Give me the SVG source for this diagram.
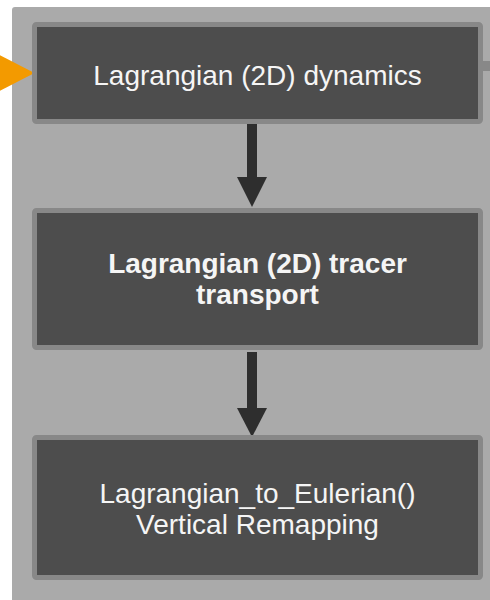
<svg xmlns="http://www.w3.org/2000/svg" width="490" height="600" viewBox="0 0 490 600">
  <style>
    .box { fill: #4d4d4d; stroke: #888888; stroke-width: 5; }
    .lbl { font-family: "Liberation Sans", Arial, sans-serif; font-size: 28px; fill: #f5f5f5; text-anchor: middle; }
    .bold { font-weight: bold; }
    .arrow { fill: #2e2e2e; }
  </style>
  <rect x="0" y="0" width="490" height="600" fill="#ffffff"/>
  <rect id="container" x="12" y="7" width="490" height="610" rx="3" fill="#aaaaaa"/>
  <rect x="483" y="61" width="10" height="10" fill="#888888"/>
  <g id="connectors">
    <polygon points="-12,49 34.5,73 -12,97" fill="#f39a00"/>
    <rect class="arrow" x="247" y="122" width="10" height="56"/>
    <polygon class="arrow" points="237,177 267,177 252,207"/>
    <rect class="arrow" x="247" y="352" width="10" height="57"/>
    <polygon class="arrow" points="237,408 267,408 252,437"/>
  </g>
  <g id="node1">
    <rect class="box" x="34.5" y="24.5" width="446" height="97" rx="2"/>
    <text class="lbl" x="257.5" y="85">Lagrangian (2D) dynamics</text>
  </g>
  <g id="node2">
    <rect class="box" x="34.5" y="210.5" width="446" height="137" rx="2"/>
    <text class="lbl bold" x="257.5" y="273">Lagrangian (2D) tracer</text>
    <text class="lbl bold" x="257.5" y="304">transport</text>
  </g>
  <g id="node3">
    <rect class="box" x="34.5" y="437.5" width="446" height="140" rx="2"/>
    <text class="lbl" x="257.5" y="503">Lagrangian_to_Eulerian()</text>
    <text class="lbl" x="257.5" y="534">Vertical Remapping</text>
  </g>
</svg>
